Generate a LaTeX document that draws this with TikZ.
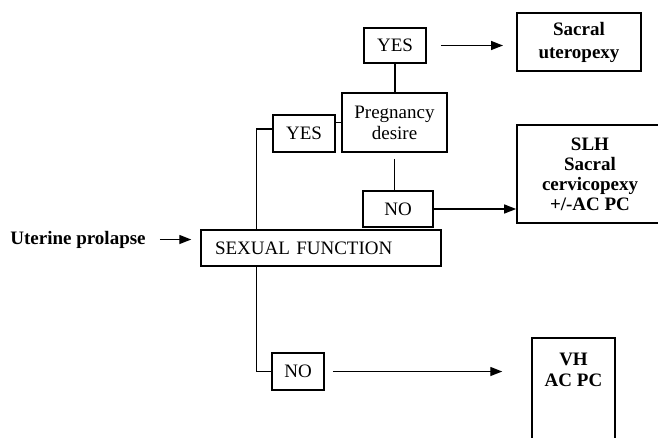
\documentclass[tikz,border=0pt]{standalone}
\usepackage{fontspec}
\setmainfont{Liberation Serif}
\usepackage{tikz}
\usetikzlibrary{positioning,arrows.meta,calc}

\begin{document}
\begin{tikzpicture}[
  x=1pt, y=-1pt,
  box/.style={draw, line width=1.5pt, inner sep=0pt, align=center,
              font=\fontsize{19}{21}\selectfont},
  result/.style={box, font=\fontsize{19}{21.5}\selectfont\bfseries},
  link/.style={line width=1.5pt},
  arr/.style={-{Triangle[length=12pt,width=9pt]}, line width=1.4pt}
]
  \useasboundingbox (0,0) rectangle (658,437);
  \clip (0,0) rectangle (658,437);

  \node[inner sep=0pt, font=\fontsize{19}{21.5}\selectfont\bfseries] (prolapse)
    at (78,239.5) {Uterine prolapse};

  \node[box, minimum width=240pt, minimum height=36pt, text width=212pt,
        align=left] (sexual) at (321,248) {SEXUAL FUNCTION};

  \node[box, minimum width=62pt, minimum height=37pt] (yesL) at (304,133.5) {YES};
  \node[box, minimum width=105pt, minimum height=59pt] (preg)
    at (394.5,122.5) {Pregnancy\\desire};
  \node[box, minimum width=62pt, minimum height=35pt] (yesT) at (395,45.5) {YES};
  \node[box, minimum width=70pt, minimum height=36pt] (noU) at (398,209) {NO};
  \node[box, minimum width=52pt, minimum height=37pt] (noL) at (298,371.5) {NO};

  \node[result, line width=2pt, minimum width=124pt, minimum height=58pt,
        font=\fontsize{19}{23}\selectfont\bfseries] (sacral)
    at (579,42) {Sacral\\uteropexy};
  \node[result, line width=1.7pt, minimum width=146pt, minimum height=98pt,
        font=\fontsize{19}{20}\selectfont\bfseries] (slh)
    at (590,174) {SLH\\Sacral\\cervicopexy\\+/-AC PC};
  \node[result, minimum width=83pt, inner ysep=15pt, anchor=north] (vh)
    at (573.5,337) {\parbox[t][120pt][t]{80pt}{\centering VH\\AC PC}};

  \draw[arr, shorten <=14pt, shorten >=9pt] (prolapse.east) -- (prolapse.east -| sexual.west);
  \draw[link] ([yshift=4.5pt]yesL.west) -| ([xshift=56pt]sexual.north west);
  \draw[link] ([xshift=56pt]sexual.south west) |- (noL.west);
  \draw[link] (preg.west) -- (preg.west -| yesL.east);
  \draw[link] (yesT.south) -- (yesT.south |- preg.north);
  \draw[link, shorten <=6pt] (preg.south) -- (preg.south |- noU.north);
  \draw[arr, shorten <=14pt, shorten >=13pt] (yesT.east) -- (yesT.east -| sacral.west);
  \draw[arr] (noU.east) -- (noU.east -| slh.west);
  \draw[arr, shorten <=8pt, shorten >=29pt] (noL.east) -- (noL.east -| vh.west);
\end{tikzpicture}
\end{document}
